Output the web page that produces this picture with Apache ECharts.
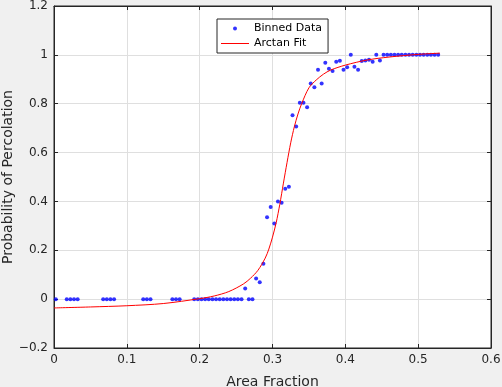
<!DOCTYPE html>
<html>
<head>
<meta charset="utf-8">
<script src="https://cdn.jsdelivr.net/npm/echarts@6/dist/echarts.min.js"></script>
<style>
html,body{margin:0;padding:0;background:#f0f0f0;}
#c{width:502px;height:387px;}
</style>
</head>
<body>
<div id="c"></div>
<script>
// Binned data (bin centres and probability)
const binX = [0.0025, 0.0175, 0.0225, 0.0275, 0.0325, 0.0675, 0.0725, 0.0775, 0.0825,
  0.1225, 0.1275, 0.1325, 0.1625, 0.1675, 0.1725,
  0.1925, 0.1975, 0.2025, 0.2075, 0.2125, 0.2175, 0.2225, 0.2275, 0.2325, 0.2375, 0.2425, 0.2475, 0.2525, 0.2575,
  0.2625, 0.2675, 0.2725, 0.2775, 0.2825, 0.2875,
  0.2925, 0.2975, 0.3025, 0.3075, 0.3125, 0.3175, 0.3225,
  0.3275, 0.3325, 0.3375, 0.3425, 0.3475,
  0.3525, 0.3575, 0.3625, 0.3675, 0.3725, 0.3775, 0.3825, 0.3875, 0.3925, 0.3975,
  0.4025, 0.4075, 0.4125, 0.4175, 0.4225, 0.4275, 0.4325, 0.4375, 0.4425, 0.4475,
  0.4525, 0.4575, 0.4625, 0.4675, 0.4725, 0.4775, 0.4825, 0.4875, 0.4925, 0.4975,
  0.5025, 0.5075, 0.5125, 0.5175, 0.5225, 0.5275];
const binY = [0, 0, 0, 0, 0, 0, 0, 0, 0,
  0, 0, 0, 0, 0, 0,
  0, 0, 0, 0, 0, 0, 0, 0, 0, 0, 0, 0, 0, 0,
  0.044, 0, 0, 0.085, 0.069, 0.145,
  0.335, 0.377, 0.31, 0.40, 0.395, 0.452, 0.46,
  0.753, 0.707, 0.804, 0.804, 0.786,
  0.883, 0.867, 0.939, 0.883, 0.968, 0.943, 0.934, 0.972, 0.976, 0.939,
  0.949, 1.0, 0.951, 0.939, 0.975, 0.977, 0.98, 0.972, 1.0, 0.977,
  1, 1, 1, 1, 1, 1, 1, 1, 1, 1,
  1, 1, 1, 1, 1, 1];

// Arctan fit curve
const fitX = [0, 0.05, 0.1, 0.15, 0.2, 0.22, 0.24, 0.26, 0.27, 0.28, 0.29, 0.295, 0.30, 0.305, 0.31, 0.315,
  0.32, 0.325, 0.33, 0.335, 0.34, 0.35, 0.36, 0.37, 0.38, 0.40, 0.43, 0.46, 0.50, 0.53];
const fitY = [-0.036, -0.032, -0.027, -0.018, 0.002, 0.013, 0.031, 0.062, 0.086, 0.118, 0.168, 0.205, 0.254, 0.312, 0.388, 0.475,
  0.56, 0.64, 0.706, 0.758, 0.80, 0.865, 0.897, 0.921, 0.938, 0.958, 0.979, 0.991, 1.002, 1.007];

const xTicks = [0, 0.1, 0.2, 0.3, 0.4, 0.5, 0.6];
const yTicks = [-0.2, 0, 0.2, 0.4, 0.6, 0.8, 1, 1.2];

const seriesNames = ['Binned Data', 'Arctan Fit'];

const FONT = 'DejaVu Sans';
const AX = '#262626';

const chart = echarts.init(document.getElementById('c'), null, {renderer: 'canvas'});

function fmt(v) {
  let s = String(Math.round(v * 1000) / 1000);
  return s.replace('-', '\u2212');
}

const option = {
  backgroundColor: '#f0f0f0',
  animation: false,
  grid: {
    left: 54, top: 6, width: 437, height: 342,
    containLabel: false,
    outerBoundsMode: 'none',
    show: true, backgroundColor: '#ffffff', borderColor: AX, borderWidth: 1
  },
  legend: {
    orient: 'vertical',
    left: 217, top: 19,
    padding: [3, 6, 3, 4],
    itemGap: 2,
    itemWidth: 28,
    itemHeight: 4,
    itemTextGap: 5,
    backgroundColor: '#ffffff',
    borderColor: AX,
    borderWidth: 1,
    borderRadius: 0,
    textStyle: {fontFamily: FONT, fontSize: 11, color: '#000', lineHeight: 13},
    data: [
      {name: seriesNames[0], icon: 'circle'},
      {name: seriesNames[1], icon: 'path://M0,0 L28,0 L28,1 L0,1 Z'}
    ]
  },
  xAxis: [{
    type: 'value',
    min: xTicks[0], max: xTicks[xTicks.length - 1], interval: 0.1,
    position: 'bottom',
    name: 'Area Fraction',
    nameLocation: 'middle',
    nameGap: 27,
    nameMoveOverlap: false,
    nameTextStyle: {fontFamily: FONT, fontSize: 14, color: AX},
    axisLine: {show: true, onZero: false, lineStyle: {color: AX, width: 1}},
    axisTick: {show: true, inside: true, length: 4, lineStyle: {color: AX}},
    axisLabel: {fontFamily: FONT, fontSize: 12, color: AX, margin: 6, formatter: fmt},
    splitLine: {show: true, lineStyle: {color: '#dfdfdf', width: 1}}
  }, {
    type: 'value',
    min: xTicks[0], max: xTicks[xTicks.length - 1], interval: 0.1,
    position: 'top',
    axisLine: {show: true, onZero: false, lineStyle: {color: AX, width: 1}},
    axisTick: {show: true, inside: true, length: 4, lineStyle: {color: AX}},
    axisLabel: {show: false},
    splitLine: {show: false}
  }],
  yAxis: [{
    type: 'value',
    min: yTicks[0], max: yTicks[yTicks.length - 1], interval: 0.2,
    position: 'left',
    name: 'Probability of Percolation',
    nameLocation: 'middle',
    nameGap: 39,
    nameMoveOverlap: false,
    nameTextStyle: {fontFamily: FONT, fontSize: 14, color: AX},
    axisLine: {show: true, onZero: false, lineStyle: {color: AX, width: 1}},
    axisTick: {show: true, inside: true, length: 4, lineStyle: {color: AX}},
    axisLabel: {fontFamily: FONT, fontSize: 12, color: AX, margin: 6, formatter: fmt},
    splitLine: {show: true, lineStyle: {color: '#dfdfdf', width: 1}}
  }, {
    type: 'value',
    min: yTicks[0], max: yTicks[yTicks.length - 1], interval: 0.2,
    position: 'right',
    axisLine: {show: true, onZero: false, lineStyle: {color: AX, width: 1}},
    axisTick: {show: true, inside: true, length: 4, lineStyle: {color: AX}},
    axisLabel: {show: false},
    splitLine: {show: false}
  }],
  series: [{
    name: seriesNames[0],
    type: 'scatter',
    xAxisIndex: 0, yAxisIndex: 0,
    symbol: 'circle',
    symbolSize: 4,
    itemStyle: {color: '#0000ff'},
    data: binX.map((x, i) => [x, binY[i]])
  }, {
    name: seriesNames[1],
    type: 'line',
    xAxisIndex: 0, yAxisIndex: 0,
    showSymbol: false,
    symbol: 'none',
    smooth: 0.3,
    lineStyle: {color: '#ff0000', width: 1},
    itemStyle: {color: '#ff0000'},
    data: fitX.map((x, i) => [x, fitY[i]])
  }]
};
chart.setOption(option);
</script>
</body>
</html>
